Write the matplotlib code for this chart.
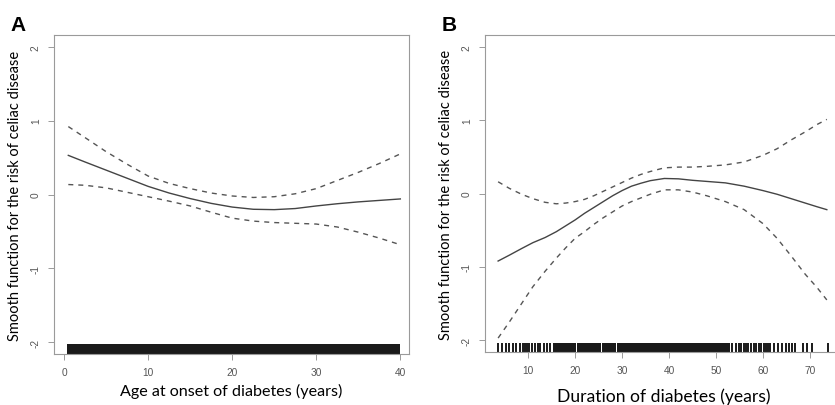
import matplotlib
matplotlib.use("Agg")
import matplotlib.pyplot as plt
import matplotlib.transforms as mtransforms

# panel A: age at onset
age_x = [0.5, 2.5, 5, 7.5, 10, 12.5, 15, 17.5, 20, 22.5, 25, 27.5, 30, 32.5, 35, 37.5, 40]
age_fit = [0.53, 0.44, 0.33, 0.22, 0.11, 0.02, -0.055, -0.12, -0.17, -0.2, -0.205, -0.19,
           -0.155, -0.125, -0.1, -0.08, -0.06]
age_upper = [0.92, 0.77, 0.58, 0.41, 0.25, 0.15, 0.08, 0.02, -0.02, -0.04, -0.03, 0.01,
             0.08, 0.19, 0.30, 0.42, 0.55]
age_lower = [0.135, 0.125, 0.09, 0.03, -0.03, -0.09, -0.155, -0.24, -0.32, -0.36, -0.38,
             -0.39, -0.40, -0.44, -0.51, -0.59, -0.68]
age_rug_spans = [(0.4, 40.0)]
age_rug_ticks = []

# panel B: duration
dur_x = [3.6, 6, 8.6, 11, 13.6, 16, 18, 20, 22, 24, 26, 28, 30, 32, 34, 36, 39, 42, 45, 48,
         52, 56, 60, 63, 66, 69, 71.5, 73.6]
dur_fit = [-0.92, -0.84, -0.75, -0.67, -0.6, -0.52, -0.44, -0.36, -0.27, -0.19, -0.11, -0.03,
           0.04, 0.1, 0.14, 0.175, 0.205, 0.2, 0.18, 0.165, 0.145, 0.1, 0.04, -0.01, -0.07,
           -0.13, -0.18, -0.22]
dur_upper = [0.16, 0.07, -0.01, -0.07, -0.12, -0.14, -0.13, -0.11, -0.08, -0.03, 0.03, 0.09,
             0.15, 0.21, 0.26, 0.3, 0.35, 0.36, 0.36, 0.37, 0.39, 0.43, 0.52, 0.61, 0.73,
             0.84, 0.94, 1.01]
dur_lower = [-1.97, -1.75, -1.5, -1.27, -1.06, -0.88, -0.74, -0.61, -0.52, -0.42, -0.33, -0.25,
             -0.17, -0.11, -0.06, -0.01, 0.05, 0.05, 0.02, -0.03, -0.11, -0.22, -0.41, -0.61,
             -0.85, -1.1, -1.28, -1.45]
dur_rug_spans = [(15.3, 20.2), (20.5, 25.5), (25.8, 28.7), (29.0, 53.0)]
dur_rug_ticks = [3.6, 4.4, 5.3, 6.0, 6.8, 7.5, 8.2, 8.8, 9.4, 9.7, 10.1, 10.8, 11.5, 12.2,
                 12.6, 13.3, 14.0, 14.6, 53.5, 54.2, 54.8, 55.3, 55.9, 56.4, 56.9, 57.5,
                 58.0, 58.6, 59.1, 59.6, 60.2, 60.6, 61.1, 61.6, 62.4, 63.2, 64.0, 65.0,
                 65.6, 66.2, 66.8, 68.6, 69.3, 70.4, 73.9]

ylab = "Smooth function for the risk of celiac disease"
label_font = "Lato"
tick_font = "Liberation Sans"
frame_col = "#9a9a9a"


def draw_panel(ax, x, fit, upper, lower, spans, ticks, xlim, xticks, xlabel, xsize, xpad):
    ax.plot(x, fit, color="#444444", lw=1.0)
    for band in (upper, lower):
        ln, = ax.plot(x, band, color="#555555", lw=1.0)
        ln.set_dashes((3.6, 3.6))
    trans = mtransforms.blended_transform_factory(ax.transData, ax.transAxes)
    for a, b in spans:
        ax.axvspan(a, b, ymin=0, ymax=0.03, color="#1a1a1a", lw=0)
    if ticks:
        ax.vlines(ticks, 0, 0.03, transform=trans, color="#1a1a1a", lw=1.4)
    ax.set_xlim(*xlim)
    ax.set_ylim(-2.16, 2.16)
    ax.set_xticks(xticks)
    ax.set_yticks([-2, -1, 0, 1, 2])
    ax.set_yticklabels(["-2", "-1", "0", "1", "2"], rotation=90, va="center")
    for lab in ax.get_xticklabels() + ax.get_yticklabels():
        lab.set_fontfamily(tick_font)
    ax.tick_params(length=4.5, width=0.7, color=frame_col, labelsize=7.3, labelcolor="#555555",
                   pad=5)
    for sp in ax.spines.values():
        sp.set_color(frame_col)
        sp.set_linewidth(0.8)
    ax.set_xlabel(xlabel, fontsize=xsize, family=label_font, labelpad=xpad)
    ax.set_ylabel(ylab, fontsize=10.5, family=label_font, labelpad=6)


fig = plt.figure(figsize=(8.35, 4.06), dpi=100)
axA = fig.add_axes([0.0647, 0.1256, 0.4248, 0.7857])
axB = fig.add_axes([0.5808, 0.1305, 0.4274, 0.7808])

draw_panel(axA, age_x, age_fit, age_upper, age_lower, age_rug_spans, age_rug_ticks,
           (-1.2, 41.0), [0, 10, 20, 30, 40], "Age at onset of diabetes (years)", 11.6, 4)
draw_panel(axB, dur_x, dur_fit, dur_upper, dur_lower, dur_rug_spans, dur_rug_ticks,
           (0.8, 76.8), [10, 20, 30, 40, 50, 60, 70], "Duration of diabetes (years)", 12.6, 9)
axB.spines["right"].set_visible(False)

fig.text(10 / 835, 1 - 31 / 406, "A", fontsize=15, fontweight="bold", family=tick_font)
fig.text(442 / 835, 1 - 31 / 406, "B", fontsize=15, fontweight="bold", family=tick_font)

fig.savefig("out.png", dpi=100)
